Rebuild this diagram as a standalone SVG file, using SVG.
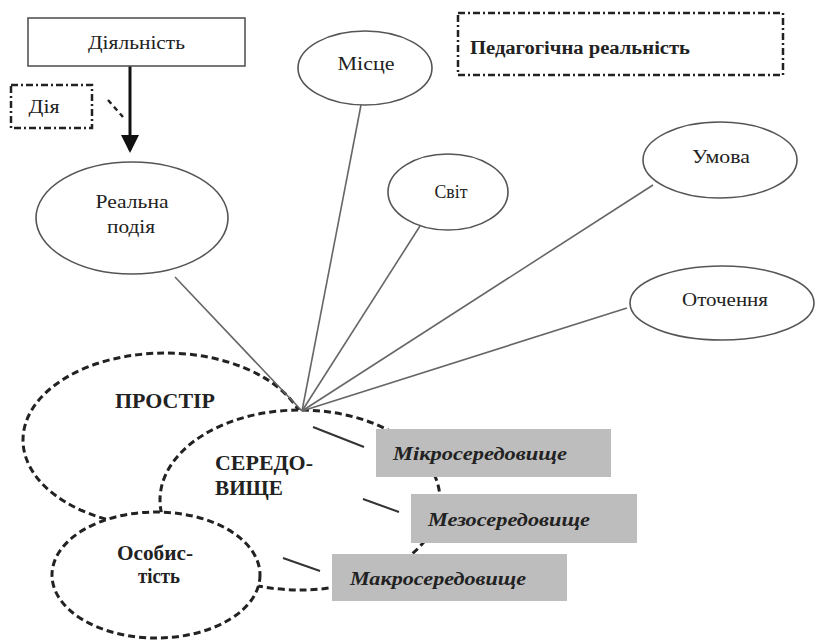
<svg xmlns="http://www.w3.org/2000/svg" width="815" height="641" viewBox="0 0 815 641">
<style>
.t{font-family:"Liberation Serif","Times New Roman",serif;fill:#222;}
.n{font-size:18px;}
.b{font-weight:bold;font-size:20px;}
.bi{font-weight:bold;font-style:italic;font-size:18px;}
.ell{fill:#fff;stroke:#555;stroke-width:1.6;}
.dash{fill:#fff;stroke:#222;stroke-width:3;stroke-dasharray:7 4;}
.dd{fill:none;stroke:#222;stroke-width:2.5;stroke-dasharray:7 3 2 3;}
.gray{fill:#bdbdbd;}
.ln{stroke:#666;stroke-width:1.6;fill:none;}
.ptr{stroke:#333;stroke-width:2;fill:none;}
</style>
<defs>
<marker id="ah" markerWidth="6" markerHeight="6" refX="5" refY="3" orient="auto" markerUnits="strokeWidth">
<path d="M0,0 L6,3 L0,6 z" fill="#111"/>
</marker>
</defs>
<rect width="815" height="641" fill="#fff"/>

<g id="prostir">
<ellipse class="dash" cx="165" cy="440" rx="142" ry="87"/>
<text class="t b" x="165" y="408" text-anchor="middle" textLength="100" lengthAdjust="spacingAndGlyphs">ПРОСТІР</text>
</g>
<g id="seredovyshche">
<ellipse class="dash" cx="300" cy="500" rx="140" ry="90"/>
<text class="t b" x="215" y="470" textLength="98" lengthAdjust="spacingAndGlyphs">СЕРЕДО-</text>
<text class="t b" x="215" y="495" textLength="68" lengthAdjust="spacingAndGlyphs">ВИЩЕ</text>
</g>
<g id="osobystist">
<ellipse class="dash" cx="156" cy="575" rx="104" ry="63"/>
<text class="t b" x="155" y="560" text-anchor="middle" textLength="76" lengthAdjust="spacingAndGlyphs">Особис-</text>
<text class="t b" x="159" y="583" text-anchor="middle" textLength="42" lengthAdjust="spacingAndGlyphs">тість</text>
</g>

<g id="connectors">
<line class="ln" x1="175" y1="277" x2="302" y2="411"/>
<line class="ln" x1="361" y1="105" x2="302" y2="411"/>
<line class="ln" x1="420" y1="226" x2="302" y2="411"/>
<line class="ln" x1="653" y1="185" x2="302" y2="411"/>
<line class="ln" x1="627" y1="308" x2="302" y2="411"/>
<line x1="130" y1="66" x2="130" y2="150" stroke="#111" stroke-width="3" marker-end="url(#ah)"/>
<line x1="108" y1="100" x2="123" y2="117" stroke="#222" stroke-width="2.5" stroke-dasharray="5 4"/>
<line class="ptr" x1="313" y1="427" x2="364" y2="447"/>
<line class="ptr" x1="363" y1="499" x2="399" y2="512"/>
<line class="ptr" x1="283" y1="558" x2="320" y2="571"/>
</g>

<g id="diialnist">
<rect x="28" y="18" width="217" height="48" fill="#fff" stroke="#555" stroke-width="1.6"/>
<text class="t n" x="136.5" y="49" text-anchor="middle" textLength="97" lengthAdjust="spacingAndGlyphs">Діяльність</text>
</g>
<g id="diia">
<rect class="dd" x="11" y="85" width="81" height="43"/>
<text class="t n" x="44" y="113" text-anchor="middle" textLength="31" lengthAdjust="spacingAndGlyphs">Дія</text>
</g>
<g id="realna-podiia">
<ellipse class="ell" cx="132" cy="218" rx="96" ry="56"/>
<text class="t n" x="132" y="208" text-anchor="middle" textLength="73" lengthAdjust="spacingAndGlyphs">Реальна</text>
<text class="t n" x="131" y="233" text-anchor="middle" textLength="48" lengthAdjust="spacingAndGlyphs">подія</text>
</g>
<g id="mistse">
<ellipse class="ell" cx="365" cy="68" rx="67" ry="37"/>
<text class="t n" x="366" y="70" text-anchor="middle" textLength="57" lengthAdjust="spacingAndGlyphs">Місце</text>
</g>
<g id="svit">
<ellipse class="ell" cx="448" cy="192" rx="60" ry="38"/>
<text class="t n" x="451" y="198" text-anchor="middle" textLength="33" lengthAdjust="spacingAndGlyphs">Світ</text>
</g>
<g id="umova">
<ellipse class="ell" cx="720" cy="160" rx="77" ry="38"/>
<text class="t n" x="721" y="163" text-anchor="middle" textLength="58" lengthAdjust="spacingAndGlyphs">Умова</text>
</g>
<g id="otochennia">
<ellipse class="ell" cx="722" cy="303" rx="92" ry="37"/>
<text class="t n" x="725" y="306" text-anchor="middle" textLength="86" lengthAdjust="spacingAndGlyphs">Оточення</text>
</g>
<g id="ped-realnist">
<rect class="dd" x="458" y="13" width="325" height="62"/>
<text class="t" x="470" y="54" font-size="18" font-weight="bold" textLength="220" lengthAdjust="spacingAndGlyphs">Педагогічна реальність</text>
</g>

<g id="mikro">
<rect class="gray" x="376" y="429" width="235" height="48"/>
<text class="t bi" x="393" y="460" textLength="174" lengthAdjust="spacingAndGlyphs">Мікросередовище</text>
</g>
<g id="mezo">
<rect class="gray" x="411" y="494" width="226" height="49"/>
<text class="t bi" x="428" y="526" textLength="162" lengthAdjust="spacingAndGlyphs">Мезосередовище</text>
</g>
<g id="makro">
<rect class="gray" x="332" y="554" width="235" height="47"/>
<text class="t bi" x="350" y="585" textLength="176" lengthAdjust="spacingAndGlyphs">Макросередовище</text>
</g>
</svg>
